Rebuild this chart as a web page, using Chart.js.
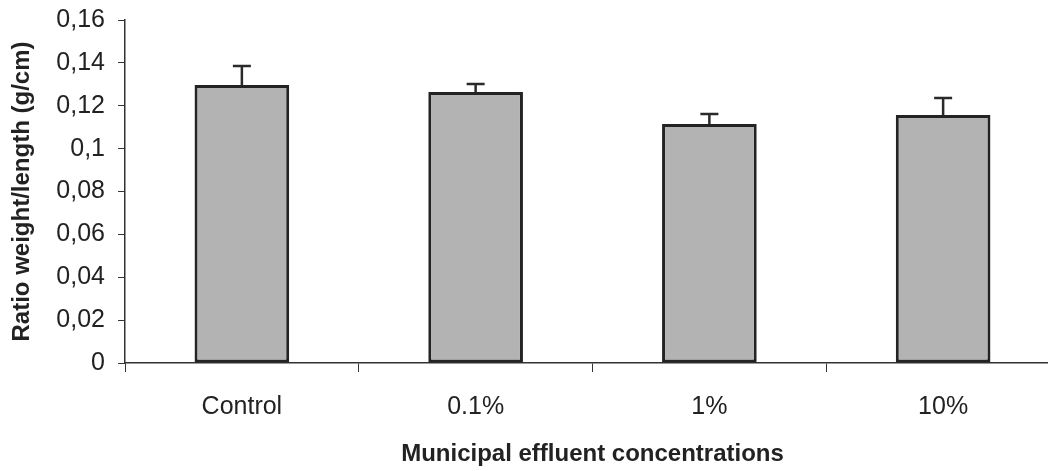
<!DOCTYPE html>
<html>
<head>
<meta charset="utf-8">
<script src="https://cdn.jsdelivr.net/npm/chart.js@4/dist/chart.umd.min.js"></script>
<style>
  html, body { margin: 0; padding: 0; background: #fff; overflow: hidden; }
  #wrap { width: 1060px; height: 471px; position: relative; }
</style>
</head>
<body>
<div id="wrap"><canvas id="c"></canvas></div>
<script>
const categories = ['Control', '0.1%', '1%', '10%'];
const meanValues = [0.1297, 0.1264, 0.1115, 0.1157];
const errorValues = [0.0088, 0.0037, 0.0046, 0.0079];
const yTickValues = [0, 0.02, 0.04, 0.06, 0.08, 0.1, 0.12, 0.14, 0.16];
const yTickLabels = ['0', '0,02', '0,04', '0,06', '0,08', '0,1', '0,12', '0,14', '0,16'];

const errorBarPlugin = {
  id: 'errorBars',
  afterDatasetsDraw(chart) {
    const ctx = chart.ctx;
    const meta = chart.getDatasetMeta(0);
    const y = chart.scales.y;
    ctx.save();
    ctx.strokeStyle = '#2a2a2a';
    ctx.lineWidth = 2.5;
    meta.data.forEach((bar, i) => {
      const x = bar.x;
      const yTop = y.getPixelForValue(meanValues[i] + errorValues[i]);
      const yBase = y.getPixelForValue(meanValues[i]);
      ctx.beginPath();
      ctx.moveTo(x, yBase);
      ctx.lineTo(x, yTop);
      ctx.moveTo(x - 9, yTop);
      ctx.lineTo(x + 9, yTop);
      ctx.stroke();
    });
    ctx.restore();
  }
};

new Chart(document.getElementById('c'), {
  type: 'bar',
  data: {
    labels: categories,
    datasets: [{
      data: meanValues,
      backgroundColor: '#b3b3b3',
      borderColor: '#232323',
      borderWidth: 3,
      borderSkipped: false,
      barPercentage: 0.405,
      categoryPercentage: 1
    }]
  },
  options: {
    responsive: true,
    maintainAspectRatio: false,
    animation: false,
    layout: { padding: { top: 20, left: 0, right: 0, bottom: 0 } },
    plugins: { legend: { display: false }, tooltip: { enabled: false } },
    scales: {
      x: {
        grid: { display: true, drawOnChartArea: false, drawTicks: true, tickLength: 9, color: '#333', offset: true },
        border: { display: true, color: '#333', width: 1.5 },
        ticks: { color: '#222', font: { family: 'Liberation Sans, Arial', size: 25 }, padding: 20 },
        title: { display: true, text: 'Municipal effluent concentrations', color: '#222',
                 font: { family: 'Liberation Sans, Arial', size: 24, weight: 'bold' }, padding: { top: 0, bottom: 2 } },
        afterFit(scale) { scale.height = 108; scale.paddingLeft = 0; scale.paddingRight = 0; }
      },
      y: {
        min: 0,
        max: 0.16,
        afterBuildTicks(scale) { scale.ticks = yTickValues.map(v => ({ value: v })); },
        grid: { display: true, drawOnChartArea: false, drawTicks: true, tickLength: 7, color: '#333' },
        border: { display: true, color: '#333', width: 1.5 },
        ticks: {
          color: '#222', font: { family: 'Liberation Sans, Arial', size: 25 }, padding: 13,
          callback(value) { const i = yTickValues.findIndex(v => Math.abs(v - value) < 1e-9); return i >= 0 ? yTickLabels[i] : ''; }
        },
        title: { display: true, text: 'Ratio weight/length (g/cm)', color: '#222',
                 font: { family: 'Liberation Sans, Arial', size: 24, weight: 'bold' }, padding: { top: 8, bottom: 4 } },
        afterFit(scale) { scale.width = 125; scale.paddingTop = 0; scale.paddingBottom = 0; }
      }
    }
  },
  plugins: [errorBarPlugin]
});
</script>
</body>
</html>
